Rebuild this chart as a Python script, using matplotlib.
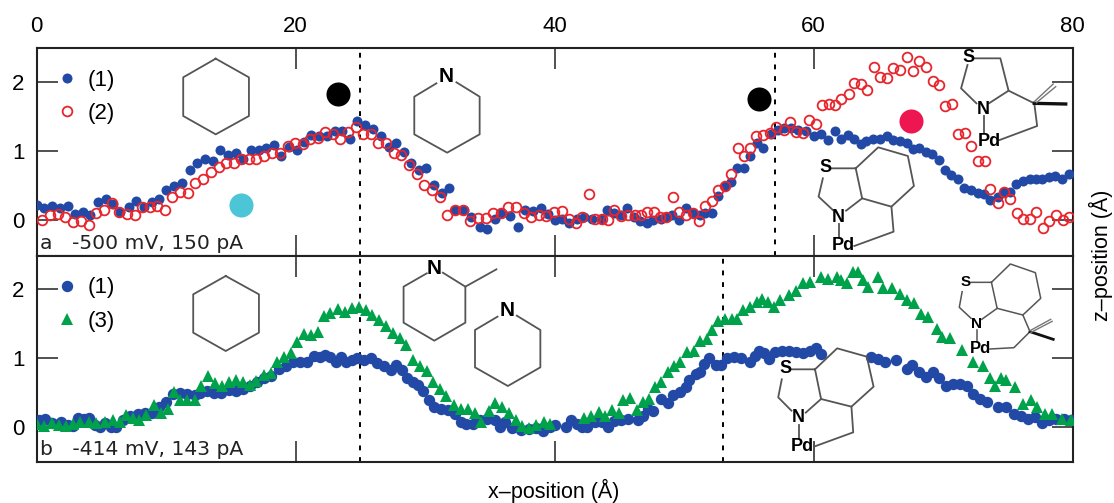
import matplotlib
matplotlib.use('Agg')
import matplotlib.pyplot as plt
from matplotlib.lines import Line2D

plt.rcParams['font.family'] = ['Liberation Sans', 'DejaVu Sans']

# panel a, curve (1)
ax1 = [0, .58, 1.19, 1.79, 2.4, 2.95, 3.56, 4.11, 4.72, 5.32, 5.88, 6.43, 7.09, 7.64, 8.25, 8.86, 9.46, 10.01, 10.62, 11.23,
       11.83, 12.39, 12.99, 13.6, 14.18, 14.76, 15.37, 15.92, 16.52, 17.13, 17.71, 18.32, 18.9, 19.45, 20.06, 20.61, 21.21, 21.77, 22.4, 23.0,
       23.59, 24.19, 24.77, 25.38, 25.99, 26.57, 27.17, 27.72, 28.33, 28.94, 29.52, 30.1, 30.7, 31.31, 31.86, 32.33, 32.97, 33.57, 34.21, 34.81,
       35.37, 35.97, 36.55, 37.16, 37.71, 38.32, 38.95, 39.5, 40.05, 40.6, 41.1, 41.7, 42.26, 42.87, 43.55, 44.08, 44.6, 45.15, 45.57, 46.12,
       46.61, 47.11, 47.63, 48.18, 48.65, 49.09, 49.59, 50.11, 50.66, 51.21, 51.63, 52.12, 52.62, 53.14, 53.64, 54.1, 54.66, 55.1, 55.65, 56.12,
       56.72, 57.27, 57.69, 58.24, 58.79, 59.42, 60.03, 60.58, 61.13, 61.63, 62.09, 62.64, 63.14, 63.64, 64.08, 64.57, 65.12, 65.67, 66.17, 66.64,
       67.19, 67.66, 68.15, 68.65, 69.12, 69.67, 70.14, 70.63, 71.18, 71.65, 72.15, 72.7, 73.2, 73.66, 74.21, 74.71, 75.18, 75.65, 76.14, 76.69,
       77.19, 77.66, 78.21, 78.62, 79.17, 79.72]
az1 = [.21, .18, .2, .18, .2, .09, .12, .07, .26, .3, .23, .12, .19, .28, .19, .26, .31, .43, .49, .54,
       .73, .83, .88, .86, 1.01, .94, .97, .89, 1.01, 1.02, 1.04, 1.08, .92, 1.06, 1.01, 1.13, 1.23, 1.21, 1.21, 1.29,
       1.29, 1.17, 1.44, 1.38, 1.32, 1.21, 1.06, 1.11, .99, .83, .72, .75, .5, .39, .47, .14, .14, .05, -.1, -.13,
       .02, .1, .06, -.1, .15, .13, .18, .08, 0, .02, -.04, .02, .05, .02, .01, .14, .1, .07, .18, .05,
       -.02, -.04, 0, .02, .05, .07, 0, .17, .1, .07, .1, .1, .35, .49, .55, .75, .75, .93, 1.11, 1.05,
       1.25, 1.3, 1.33, 1.34, 1.31, 1.29, 1.22, 1.24, 1.16, 1.29, 1.18, 1.23, 1.17, 1.1, 1.14, 1.17, 1.18, 1.21, 1.16, 1.15,
       1.11, 1.03, 1.04, .98, .96, .87, .72, .65, .6, .47, .43, .39, .38, .29, .34, .41, .41, .52, .57, .59,
       .6, .59, .63, .64, .6, .66]

# panel a, curve (2)
ax2 = [.41, 1.02, 1.63, 2.21, 2.79, 3.39, 4.0, 4.61, 5.19, 5.79, 6.37, 6.95, 7.56, 8.14, 8.72, 9.32, 9.9, 10.48, 11.06, 11.67,
       12.25, 12.86, 13.43, 14.04, 14.59, 15.2, 15.81, 16.39, 16.97, 17.57, 18.15, 18.76, 19.37, 19.94, 20.55, 21.13, 21.71, 22.26, 22.87, 23.45,
       24.06, 24.63, 25.21, 25.82, 26.37, 26.98, 27.56, 28.17, 28.77, 29.35, 29.93, 30.54, 31.14, 31.72, 32.3, 32.91, 33.49, 34.07, 34.68, 35.26,
       35.83, 36.41, 37.02, 37.6, 38.18, 38.81, 39.37, 39.97, 40.6, 41.1, 41.65, 42.12, 42.62, 43.09, 43.64, 44.13, 44.6, 45.15, 45.7, 46.17,
       46.67, 47.16, 47.69, 48.13, 48.6, 49.15, 49.61, 50.11, 50.66, 51.16, 51.63, 52.12, 52.62, 53.14, 53.64, 54.16, 54.66, 55.1, 55.59, 56.12,
       56.61, 57.13, 57.69, 58.15, 58.65, 59.2, 59.67, 60.17, 60.66, 61.16, 61.65, 62.15, 62.7, 63.14, 63.64, 64.16, 64.66, 65.12, 65.67, 66.17,
       66.69, 67.19, 67.66, 68.15, 68.65, 69.2, 69.7, 70.17, 70.72, 71.18, 71.68, 72.15, 72.7, 73.22, 73.66, 74.21, 74.71, 75.18, 75.73, 76.2,
       76.69, 77.19, 77.69, 78.21, 78.7, 79.23, 79.72]
az2 = [0, .07, .09, .05, -.03, -.01, -.08, .1, .15, .24, .11, .09, .07, .19, .19, .2, .15, .33, .4, .39,
       .54, .6, .69, .77, .83, .83, .89, .89, .89, .92, .97, .97, 1.07, 1.12, 1.1, 1.17, 1.19, 1.28, 1.25, 1.17,
       1.28, 1.35, 1.25, 1.25, 1.11, 1.12, .97, .94, .79, .67, .51, .43, .34, .07, .15, .14, -.02, .03, .03, .1,
       .1, .19, .19, .1, .05, .07, .06, .12, .13, .02, -.04, .05, .38, .02, .02, 0, .14, .06, .07, .07,
       .07, .11, .11, .05, .05, .34, .12, .07, .1, -.01, .2, .27, .44, .49, .67, 1.04, .93, 1.04, 1.22, 1.23,
       1.26, 1.35, 1.3, 1.42, 1.27, 1.26, 1.45, 1.39, 1.66, 1.68, 1.66, 1.75, 1.82, 1.98, 1.97, 1.89, 2.22, 2.07, 2.06, 2.2,
       2.18, 2.36, 2.16, 2.3, 2.22, 2.01, 1.95, 1.65, 1.68, 1.25, 1.26, 1.07, .85, .85, .45, .24, .4, .3, .1, .02,
       .02, .11, -.12, -.02, .07, 0, .04]

# panel b, curve (1)
bx1 = [.14, .61, 1.16, 1.85, 2.4, 2.81, 3.17, 3.64, 4.06, 4.47, 4.88, 5.3, 5.71, 6.12, 6.68, 7.23, 7.78, 8.33, 8.88, 9.43,
       9.99, 10.54, 11.09, 11.64, 12.19, 12.61, 13.16, 13.71, 14.26, 14.81, 15.37, 15.92, 16.47, 17.02, 17.57, 18.07, 18.68, 19.23, 19.78, 20.33,
       20.88, 21.43, 21.85, 22.26, 22.68, 23.09, 23.5, 23.92, 24.33, 24.74, 25.3, 25.85, 26.26, 26.81, 27.37, 27.78, 28.19, 28.61, 29.02, 29.43,
       29.85, 30.26, 30.68, 31.23, 31.78, 32.33, 32.74, 33.16, 33.71, 34.26, 34.81, 35.37, 35.78, 36.19, 36.74, 37.43, 37.99, 38.54, 39.09, 39.64,
       40.05, 40.88, 41.29, 41.7, 42.12, 42.53, 43.09, 43.64, 44.13, 44.6, 45.15, 45.7, 46.45, 46.8, 47.22, 47.63, 48.18, 48.73, 49.15, 49.7,
       50.11, 50.39, 50.94, 51.21, 51.57, 51.9, 52.45, 52.87, 53.28, 53.83, 54.38, 55.07, 55.48, 55.81, 56.17, 56.58, 57.0, 57.55, 58.1, 58.65,
       59.2, 59.75, 60.17, 60.58, 64.44, 64.99, 65.54, 66.36, 67.19, 67.6, 68.15, 68.71, 69.26, 69.67, 70.22, 70.77, 71.32, 71.87, 72.29, 72.84,
       73.39, 74.21, 74.9, 75.45, 76.01, 76.56, 77.11, 77.66, 78.21, 78.76, 79.31, 79.86]
bz1 = [.11, .12, .06, .07, .03, .02, .14, .12, .14, .03, .01, .06, .01, 0, .11, .17, .19, .21, .21, .3,
       .37, .48, .5, .48, .47, .49, .52, .49, .5, .54, .52, .56, .59, .66, .71, .74, .84, .88, .94, .94,
       .95, 1.03, 1.01, 1.04, 1.01, .95, 1.02, .95, .98, 1.0, .98, 1.0, .93, .88, .83, .9, .83, .71, .66, .61,
       .52, .39, .3, .27, .25, .19, .07, .05, .05, .11, .12, .1, 0, .07, -.01, -.04, -.03, -.01, -.05, .01,
       .03, 0, .1, .05, 0, 0, .07, .07, .01, .09, .1, .12, .1, .17, .27, .24, .41, .35, .47, .51,
       .58, .69, .77, .8, .92, 1.0, .9, .9, 1.0, 1.01, 1.0, .95, 1.03, 1.11, 1.08, .99, 1.09, 1.11, 1.11, 1.09,
       1.07, 1.11, 1.14, 1.06, 1.02, .99, .94, .97, .84, .9, .8, .73, .8, .72, .6, .62, .62, .59, .48, .41,
       .36, .29, .3, .19, .17, .12, .15, .06, .1, .12, .12, .1]

# panel b, curve (3)
bx3 = [0, .52, 1.16, 1.71, 2.26, 2.81, 3.37, 4.06, 4.61, 5.3, 5.85, 6.4, 6.87, 7.42, 7.92, 8.47, 9.02, 9.57, 10.12, 10.62,
       11.09, 11.64, 12.19, 12.69, 13.24, 13.79, 14.32, 14.81, 15.37, 15.92, 16.47, 16.97, 17.52, 18.07, 18.54, 19.09, 19.64, 20.11, 20.66, 21.16,
       21.71, 22.21, 22.68, 23.23, 23.78, 24.33, 24.88, 25.43, 25.93, 26.4, 26.95, 27.5, 28.06, 28.55, 29.08, 29.57, 30.12, 30.62, 31.14, 31.64,
       32.25, 32.74, 33.3, 33.85, 34.34, 34.9, 35.42, 35.92, 36.47, 37.02, 37.49, 38.04, 38.54, 39.14, 39.64, 42.26, 42.81, 43.42, 43.91, 44.46,
       44.96, 45.29, 45.84, 46.34, 46.8, 47.27, 47.77, 48.24, 48.73, 49.23, 49.7, 50.25, 50.74, 51.21, 51.76, 52.18, 52.59, 53.14, 53.69, 54.1,
       54.52, 55.07, 55.62, 55.98, 56.45, 56.91, 57.41, 58.1, 58.65, 59.2, 59.75, 60.58, 61.13, 61.82, 62.09, 62.59, 63.06, 63.47, 63.8, 64.24,
       64.99, 65.4, 66.09, 66.64, 67.19, 67.74, 68.29, 68.84, 69.53, 69.94, 70.5, 71.46, 72.29, 73.11, 73.61, 73.99, 74.44, 74.9, 75.59, 76.14,
       76.83, 77.25, 77.85, 78.4, 79.17, 79.86]
bz3 = [.05, .02, .06, .03, .02, .05, .08, .08, .06, .08, .11, .08, .18, .13, .1, .18, .32, .2, .27, .51,
       .39, .39, .39, .59, .74, .64, .6, .65, .68, .65, .61, .67, .76, .79, .95, 1.02, 1.08, 1.24, 1.35, 1.34,
       1.38, 1.61, 1.65, 1.71, 1.67, 1.72, 1.74, 1.7, 1.62, 1.55, 1.46, 1.36, 1.29, 1.19, .97, .89, .82, .65, .55, .45,
       .32, .26, .26, .2, .07, .24, .35, .3, .2, .11, .02, -.01, .03, .08, .05, .13, .17, .22, .17, .25,
       .2, .39, .43, .25, .36, .41, .58, .65, .8, .89, .94, 1.09, 1.11, 1.25, 1.28, 1.41, 1.54, 1.57, 1.57, 1.57,
       1.69, 1.74, 1.81, 1.86, 1.81, 1.74, 1.84, 1.91, 1.97, 2.08, 2.1, 2.18, 2.15, 2.18, 2.13, 2.08, 2.25, 2.25, 2.13, 2.03,
       2.18, 2.02, 2.02, 1.93, 1.84, 1.8, 1.64, 1.59, 1.42, 1.3, 1.29, 1.12, .95, .89, .72, .6, .72, .68, .58, .33,
       .39, .29, .19, .19, .12, .1]

xticks = [0, 20, 40, 60, 80]
zticks = [0, 1, 2]
dashes_a = [25, 57]
dashes_b = [25, 53]

W, H = 1114, 503
fig = plt.figure(figsize=(W / 100, H / 100), dpi=100)


def make_axes(top, bottom, ylim):
    ax = fig.add_axes([36.8 / W, 1 - bottom / H, (1072.5 - 36.8) / W, (bottom - top) / H])
    ax.set_xlim(0, 80)
    ax.set_ylim(*ylim)
    ax.set_xticks(xticks)
    ax.set_yticks(zticks)
    ax.tick_params(direction='in', length=15, width=1.1, top=True, right=True, labelsize=16, pad=9, color='#222222')
    for s in ax.spines.values():
        s.set_linewidth(1.5)
        s.set_color('#222222')
    return ax


top = make_axes(47.7, 255.5, (-0.515, 2.497))
bot = make_axes(255.5, 461.7, (-0.498, 2.485))

top.tick_params(labelbottom=False, labeltop=True, pad=8, axis='x')
bot.tick_params(labelbottom=False, axis='x')

blue = '#2149a5'
red = '#e8242c'
green = '#00a14b'

for x in dashes_a:
    top.axvline(x, color='k', ls=(0, (2.5, 3.5)), lw=1.4, zorder=1)
for x in dashes_b:
    bot.axvline(x, color='k', ls=(0, (2.5, 3.5)), lw=1.4, zorder=1)

top.plot(ax1, az1, 'o', color=blue, ms=7.2, mew=0, label='(1)', zorder=3)
top.plot(ax2, az2, 'o', mfc='none', mec=red, ms=7, mew=1.3, label='(2)', zorder=4)
bot.plot(bx1, bz1, 'o', color=blue, ms=8.2, mew=0, label='(1)', zorder=3)
bot.plot(bx3, bz3, '^', color=green, ms=9, mew=0, label='(3)', zorder=4)

# the big coloured dots
top.scatter([23.26, 55.76], [1.82, 1.75], s=300, color='k', lw=0, zorder=5)
top.scatter([15.81], [0.22], s=300, color='#4cc6d6', lw=0, zorder=5)
top.scatter([67.55], [1.43], s=300, color='#ee1650', lw=0, zorder=5)

for ax in (top, bot):
    ax.legend(loc='upper left', bbox_to_anchor=(0.0183, 0.894), frameon=False, fontsize=16, handletextpad=0.45,
              labelspacing=0.55, numpoints=1, borderpad=0, borderaxespad=0, handlelength=1.0)

top.text(0.0028, 0.012, 'a   -500 mV, 150 pA', transform=top.transAxes, family='DejaVu Sans', fontsize=14.6, color='#222222',
         ha='left', va='bottom')
bot.text(0.0028, 0.012, 'b   -414 mV, 143 pA', transform=bot.transAxes, family='DejaVu Sans', fontsize=14.6, color='#222222',
         ha='left', va='bottom')

fig.text(554 / W, 1 - 491 / H, 'x\u2013position (\u00c5)', fontsize=15.5, ha='center', va='center')
fig.text(1101 / W, 1 - 255 / H, 'z\u2013position (\u00c5)', fontsize=15.5, ha='center', va='center', rotation=90)


# molecule sketches, in picture pixels
def px(x, y):
    return x / W, 1 - y / H


def chain(points, color='#555555', lw=1.3):
    xs = [px(*p)[0] for p in points]
    ys = [px(*p)[1] for p in points]
    fig.add_artist(Line2D(xs, ys, color=color, lw=lw, transform=fig.transFigure, zorder=6))


def atom(x, y, s, size=13):
    fx, fy = px(x, y)
    fig.text(fx, fy, s, fontsize=size, fontweight='bold', family='Liberation Sans', ha='center', va='center', zorder=7)


def zoom_a(points, ox=0, oy=0):
    return [(ox + a / 2.8, oy + b / 3) for a, b in points]


# hexagons
chain(zoom_a([(604, 176), (697, 232), (697, 348), (604, 403), (513, 348), (513, 232), (604, 176)]))
chain(zoom_a([(632, 78), (725, 133), (725, 248), (632, 303), (541, 248), (541, 133), (632, 78)], 0, 250))

# piperidines
chain(zoom_a([(1278, 247), (1343, 290), (1343, 403), (1252, 458), (1160, 403), (1160, 290), (1222, 250)]))
atom(1250 / 2.8, 230 / 3, 'N', 15)
chain(zoom_a([(1240, 68), (1303, 110), (1303, 218), (1216, 272), (1130, 218), (1130, 110), (1195, 70)], 0, 250))
chain(zoom_a([(1303, 110), (1390, 58)], 0, 250))
atom(1216 / 2.8, 250 + 55 / 3, 'N', 15)
chain(zoom_a([(1447, 197), (1513, 240), (1513, 352), (1422, 408), (1330, 352), (1330, 240), (1393, 200)], 0, 250))
atom(1420 / 2.8, 250 + 180 / 3, 'N', 15)

# panel a, right side
o = 555
chain(zoom_a([(1175, 175), (1247, 175), (1270, 272), (1215, 310)], o))
chain(zoom_a([(1155, 195), (1137, 265), (1180, 310)], o))
chain(zoom_a([(1270, 272), (1342, 310), (1350, 378), (1245, 420)], o))
chain(zoom_a([(1202, 348), (1202, 400)], o))
chain(zoom_a([(1342, 310), (1430, 312)], o), color='#111111', lw=2.4)
chain(zoom_a([(1342, 305), (1395, 252)], o), color='#777777', lw=1.0)
chain(zoom_a([(1348, 308), (1402, 260)], o), color='#777777', lw=1.0)
atom(o + 1158 / 2.8, 172 / 3, 'S')
atom(o + 1200 / 2.8, 328 / 3, 'N')
atom(o + 1215 / 2.8, 424 / 3, 'Pd')

chain(zoom_a([(775, 505), (842, 505), (905, 442), (988, 468), (1005, 558), (942, 620), (860, 595), (842, 505)], o))
chain(zoom_a([(860, 595), (815, 632)], o))
chain(zoom_a([(750, 535), (738, 590), (778, 630)], o))
chain(zoom_a([(795, 672), (795, 715)], o))
chain(zoom_a([(942, 620), (948, 695), (838, 738)], o))
atom(o + 758 / 2.8, 503 / 3, 'S')
atom(o + 793 / 2.8, 652 / 3, 'N')
atom(o + 808 / 2.8, 738 / 3, 'Pd')

# panel b, right side
chain(zoom_a([(662, 358), (728, 358), (790, 295), (873, 320), (892, 410), (830, 470), (745, 447), (728, 358)], o, 250))
chain(zoom_a([(745, 447), (702, 488)], o, 250))
chain(zoom_a([(635, 388), (625, 442), (662, 482)], o, 250))
chain(zoom_a([(682, 525), (682, 568)], o, 250))
chain(zoom_a([(830, 470), (835, 547), (725, 590)], o, 250))
atom(o + 645 / 2.8, 250 + 355 / 3, 'S')
atom(o + 680 / 2.8, 250 + 503 / 3, 'N')
atom(o + 693 / 2.8, 250 + 590 / 3, 'Pd')

chain(zoom_a([(1165, 97), (1222, 97), (1275, 42), (1345, 68), (1360, 145), (1310, 195), (1238, 175), (1222, 97)], o, 250), lw=1.1)
chain(zoom_a([(1238, 175), (1195, 208)], o, 250), lw=1.1)
chain(zoom_a([(1140, 125), (1132, 172), (1165, 205)], o, 250), lw=1.1)
chain(zoom_a([(1182, 240), (1182, 275)], o, 250), lw=1.1)
chain(zoom_a([(1310, 195), (1330, 245), (1285, 293), (1218, 297)], o, 250), lw=1.1)
chain(zoom_a([(1330, 245), (1395, 268)], o, 250), color='#111111', lw=2.0)
chain(zoom_a([(1330, 242), (1388, 208)], o, 250), color='#777777', lw=1.0)
chain(zoom_a([(1333, 247), (1392, 214)], o, 250), color='#777777', lw=1.0)
atom(o + 1150 / 2.8, 250 + 97 / 3, 'S', 11)
atom(o + 1180 / 2.8, 250 + 222 / 3, 'N', 11)
atom(o + 1192 / 2.8, 250 + 295 / 3, 'Pd', 12)

plt.savefig('out.png', dpi=100)
